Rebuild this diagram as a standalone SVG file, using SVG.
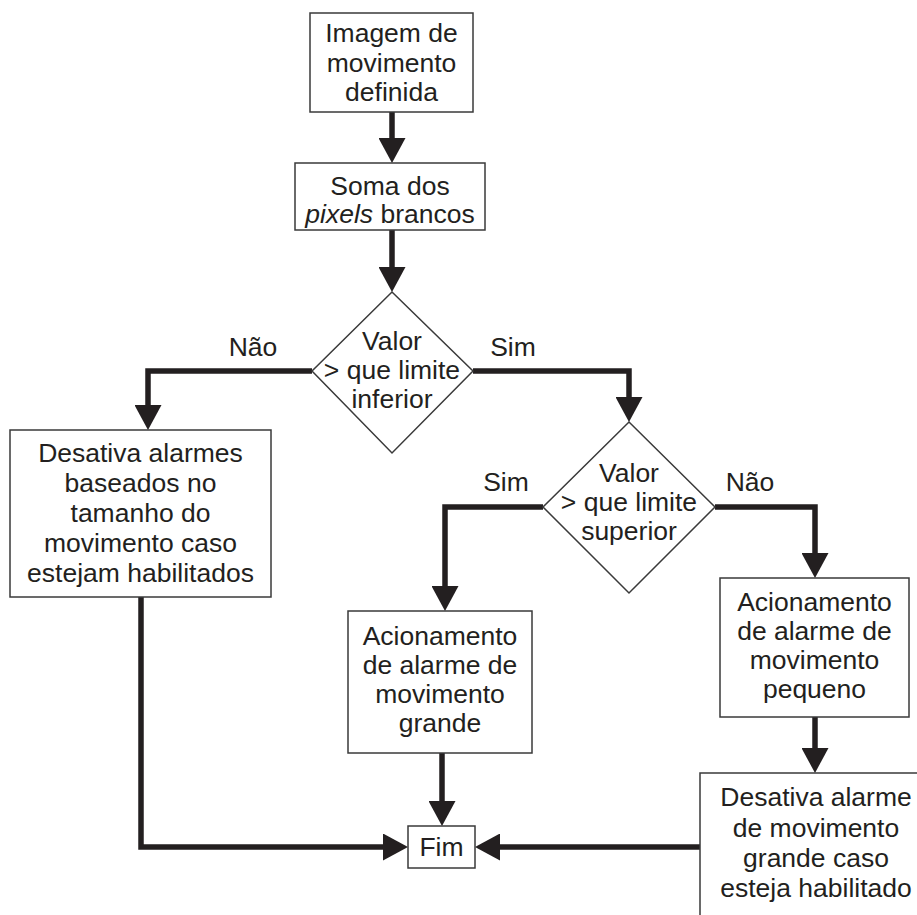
<svg xmlns="http://www.w3.org/2000/svg" width="917" height="915" viewBox="0 0 917 915">
<style>
.box{fill:#fff;stroke:#3a3a3a;stroke-width:1.5}
.t{font-family:"Liberation Sans",Arial,sans-serif;font-size:26.5px;fill:#231f20;text-anchor:middle}
.c{fill:none;stroke:#231f20;stroke-width:5.5;stroke-linejoin:miter}
</style>
<defs>
<marker id="ah" viewBox="0 0 25 27" markerWidth="25" markerHeight="27" refX="1" refY="13.5" orient="auto" markerUnits="userSpaceOnUse">
<path d="M0,0 L25,13.5 L0,27 Z" fill="#231f20"/>
</marker>
</defs>
<rect width="917" height="915" fill="#fff"/>
<g id="connectors">
<path class="c" d="M392,112 V139" marker-end="url(#ah)"/>
<path class="c" d="M392,230 V268" marker-end="url(#ah)"/>
<path class="c" d="M312,371 H148 V406" marker-end="url(#ah)"/>
<path class="c" d="M473,371 H629 V398" marker-end="url(#ah)"/>
<path class="c" d="M543,507 H445 V587" marker-end="url(#ah)"/>
<path class="c" d="M715,507 H815 V554" marker-end="url(#ah)"/>
<path class="c" d="M141,597 V847 H384" marker-end="url(#ah)"/>
<path class="c" d="M442,753 V802" marker-end="url(#ah)"/>
<path class="c" d="M815,717 V749" marker-end="url(#ah)"/>
<path class="c" d="M700,847 H499" marker-end="url(#ah)"/>
</g>
<g id="labels">
<text class="t" x="253" y="356">Não</text>
<text class="t" x="513" y="356">Sim</text>
<text class="t" x="506" y="491">Sim</text>
<text class="t" x="750" y="491">Não</text>
</g>
<g id="n1">
<rect class="box" x="310" y="13" width="163" height="99"/>
<text class="t" x="391.5" y="42">Imagem de</text>
<text class="t" x="391.5" y="72">movimento</text>
<text class="t" x="391.5" y="101">definida</text>
</g>
<g id="n2">
<rect class="box" x="295" y="163" width="190" height="67"/>
<text class="t" x="390" y="195">Soma dos</text>
<text class="t" x="390" y="223"><tspan font-style="italic">pixels</tspan> brancos</text>
</g>
<g id="d1">
<polygon class="box" points="392,292 473,371 392,453 312,371"/>
<text class="t" x="392" y="350">Valor</text>
<text class="t" x="392" y="379">&gt; que limite</text>
<text class="t" x="392" y="408">inferior</text>
</g>
<g id="n3">
<rect class="box" x="10" y="430" width="261" height="167"/>
<text class="t" x="140.5" y="462">Desativa alarmes</text>
<text class="t" x="140.5" y="492">baseados no</text>
<text class="t" x="140.5" y="522">tamanho do</text>
<text class="t" x="140.5" y="552">movimento caso</text>
<text class="t" x="140.5" y="582">estejam habilitados</text>
</g>
<g id="d2">
<polygon class="box" points="629,422 715,507 629,593 543,507"/>
<text class="t" x="629" y="482">Valor</text>
<text class="t" x="629" y="511">&gt; que limite</text>
<text class="t" x="629" y="540">superior</text>
</g>
<g id="n4">
<rect class="box" x="348" y="611" width="184" height="142"/>
<text class="t" x="440" y="645">Acionamento</text>
<text class="t" x="440" y="674">de alarme de</text>
<text class="t" x="440" y="703">movimento</text>
<text class="t" x="440" y="732">grande</text>
</g>
<g id="n5">
<rect class="box" x="720" y="578" width="189" height="139"/>
<text class="t" x="814.5" y="611">Acionamento</text>
<text class="t" x="814.5" y="640">de alarme de</text>
<text class="t" x="814.5" y="669">movimento</text>
<text class="t" x="814.5" y="698">pequeno</text>
</g>
<g id="n6">
<rect class="box" x="700" y="773" width="232" height="160"/>
<text class="t" x="816" y="806">Desativa alarme</text>
<text class="t" x="816" y="837">de movimento</text>
<text class="t" x="816" y="867">grande caso</text>
<text class="t" x="816" y="897">esteja habilitado</text>
</g>
<g id="fim">
<rect class="box" x="408" y="826" width="67" height="42"/>
<text class="t" x="441.5" y="856">Fim</text>
</g>
</svg>
